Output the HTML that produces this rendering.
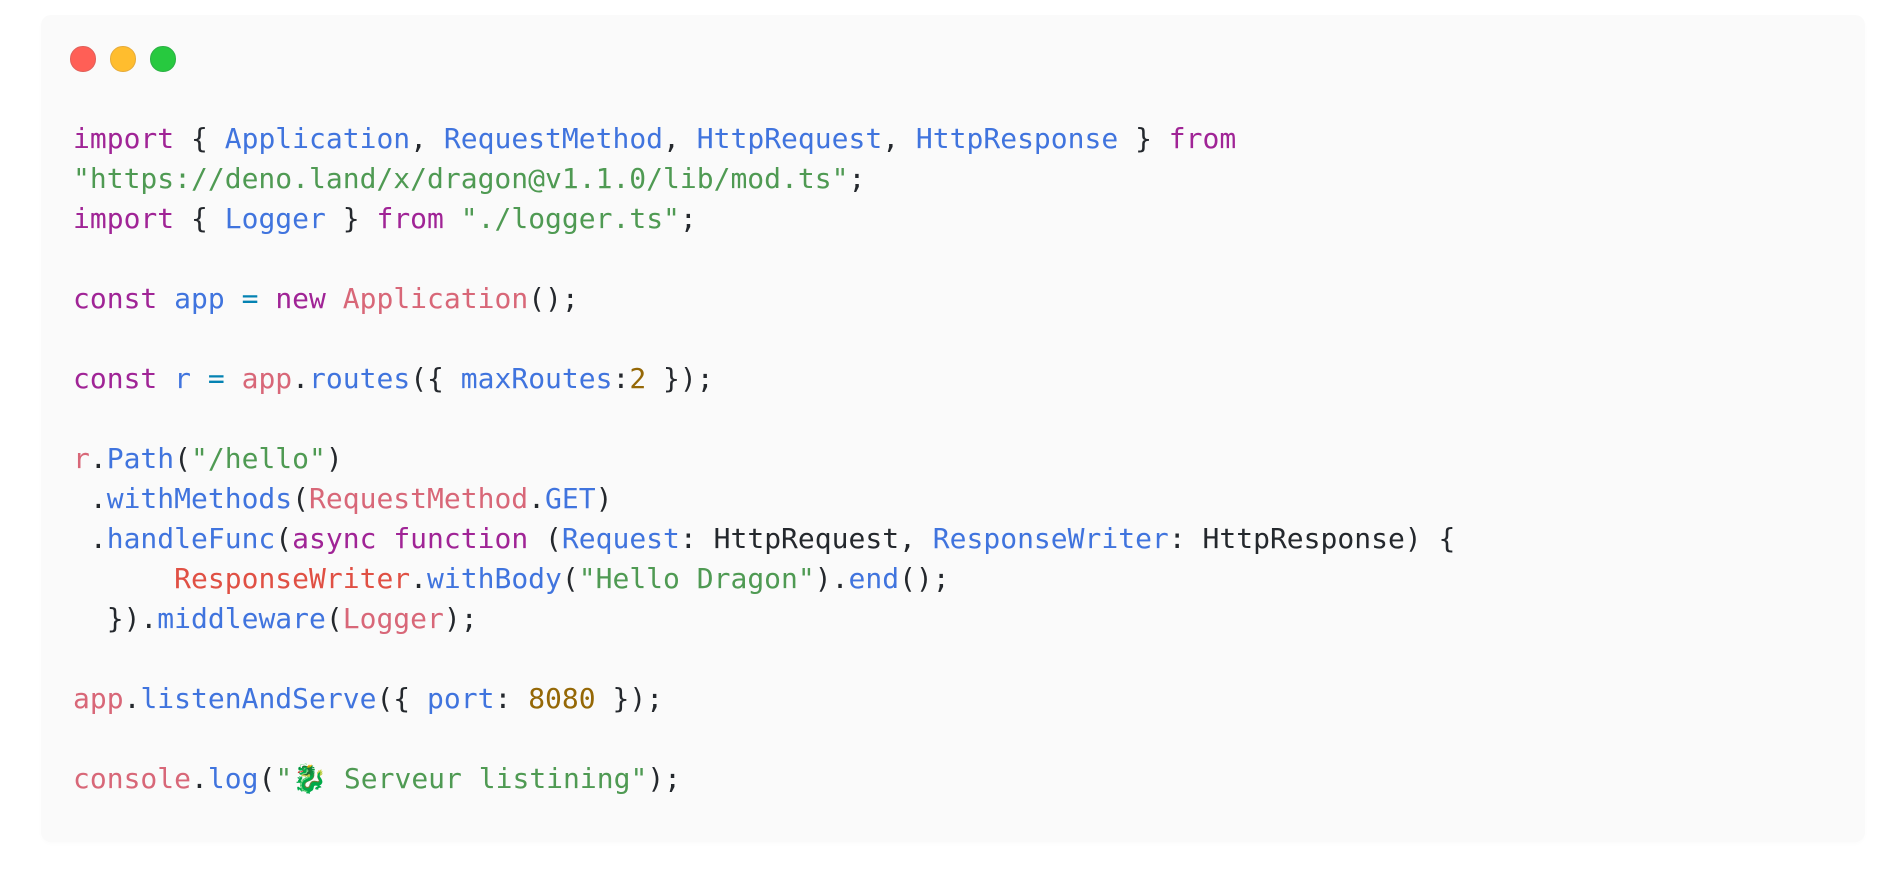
<!DOCTYPE html>
<html><head><meta charset="utf-8">
<style>
html,body{margin:0;padding:0;background:#fff;width:1902px;height:880px;overflow:hidden}
#p{position:absolute;left:41px;top:15px;width:1824px;height:827px;background:#fafafa;border-radius:10px;box-shadow:0 2px 4px rgba(0,0,0,.015)}
.d{position:absolute;top:31.3px;width:23.4px;height:23.4px;border-radius:50%;border:1px solid}
pre{position:absolute;left:32px;top:104px;margin:0;font:28px/40px "DejaVu Sans Mono","Liberation Mono",monospace;color:#24282d;filter:blur(.25px)}
.k{color:#a02496}.b{color:#4074de}.g{color:#4f9a53}.r{color:#d86778}.n{color:#956806}.o{color:#0482b2}.e{color:#e05044}
</style></head><body>
<div id="p">
<div class="d" style="left:29.3px;background:#ff5f56;border-color:#e0605a"></div>
<div class="d" style="left:69.3px;background:#ffbd2e;border-color:#e6ab3a"></div>
<div class="d" style="left:109.3px;background:#27c93f;border-color:#2cb045"></div>
<pre><span class="k">import</span> { <span class="b">Application</span>, <span class="b">RequestMethod</span>, <span class="b">HttpRequest</span>, <span class="b">HttpResponse</span> } <span class="k">from</span>
<span class="g">"https://deno.land/x/dragon@v1.1.0/lib/mod.ts"</span>;
<span class="k">import</span> { <span class="b">Logger</span> } <span class="k">from</span> <span class="g">"./logger.ts"</span>;

<span class="k">const</span> <span class="b">app</span> <span class="o">=</span> <span class="k">new</span> <span class="r">Application</span>();

<span class="k">const</span> <span class="b">r</span> <span class="o">=</span> <span class="r">app</span>.<span class="b">routes</span>({ <span class="b">maxRoutes</span>:<span class="n">2</span> });

<span class="r">r</span>.<span class="b">Path</span>(<span class="g">"/hello"</span>)
 .<span class="b">withMethods</span>(<span class="r">RequestMethod</span>.<span class="b">GET</span>)
 .<span class="b">handleFunc</span>(<span class="k">async</span> <span class="k">function</span> (<span class="b">Request</span>: HttpRequest, <span class="b">ResponseWriter</span>: HttpResponse) {
      <span class="e">ResponseWriter</span>.<span class="b">withBody</span>(<span class="g">"Hello Dragon"</span>).<span class="b">end</span>();
  }).<span class="b">middleware</span>(<span class="r">Logger</span>);

<span class="r">app</span>.<span class="b">listenAndServe</span>({ <span class="b">port</span>: <span class="n">8080</span> });

<span class="r">console</span>.<span class="b">log</span>(<span class="g">"🐉 Serveur listining"</span>);</pre>
</div>
</body></html>
